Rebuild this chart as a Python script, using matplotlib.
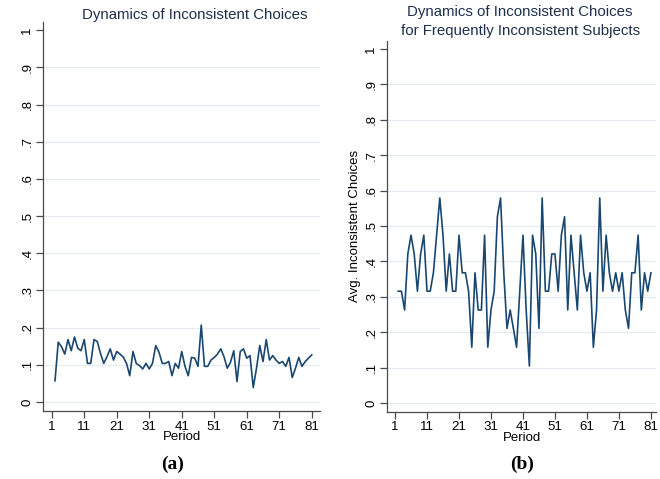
import numpy as np
import matplotlib
matplotlib.use("Agg")
import matplotlib.pyplot as plt

plt.rcParams['font.family'] = ['Liberation Sans', 'DejaVu Sans']

# periods 2..81 (first period has no previous choice to compare with)
periods = np.arange(2, 82)

# panel (a): all subjects
avg_all = [
    0.057, 0.161, 0.149, 0.129, 0.168, 0.138, 0.175, 0.145, 0.138, 0.168,
    0.104, 0.104, 0.168, 0.163, 0.131, 0.104, 0.122, 0.143, 0.113, 0.136,
    0.129, 0.121, 0.104, 0.071, 0.136, 0.104, 0.098, 0.089, 0.104, 0.089,
    0.104, 0.152, 0.134, 0.104, 0.104, 0.109, 0.071, 0.104, 0.091, 0.136,
    0.096, 0.071, 0.120, 0.118, 0.096, 0.207, 0.096, 0.096, 0.113, 0.120,
    0.129, 0.143, 0.122, 0.091, 0.107, 0.138, 0.055, 0.136, 0.143, 0.118,
    0.125, 0.039, 0.091, 0.152, 0.109, 0.168, 0.113, 0.125, 0.113, 0.104,
    0.109, 0.096, 0.120, 0.066, 0.091, 0.120, 0.096, 0.109, 0.118, 0.127,
]

# panel (b): frequently inconsistent subjects
avg_freq = [
    0.316, 0.316, 0.263, 0.421, 0.474, 0.421, 0.316, 0.421, 0.474, 0.316,
    0.316, 0.368, 0.474, 0.579, 0.474, 0.316, 0.421, 0.316, 0.316, 0.474,
    0.368, 0.368, 0.316, 0.158, 0.368, 0.263, 0.263, 0.474, 0.158, 0.263,
    0.316, 0.526, 0.579, 0.368, 0.211, 0.263, 0.211, 0.158, 0.316, 0.474,
    0.263, 0.105, 0.474, 0.421, 0.211, 0.579, 0.316, 0.316, 0.421, 0.421,
    0.316, 0.474, 0.526, 0.263, 0.474, 0.368, 0.263, 0.474, 0.368, 0.316,
    0.368, 0.158, 0.263, 0.579, 0.316, 0.474, 0.368, 0.316, 0.368, 0.316,
    0.368, 0.263, 0.211, 0.368, 0.368, 0.474, 0.263, 0.368, 0.316, 0.368,
]

xticks = [1, 11, 21, 31, 41, 51, 61, 71, 81]
yticks = [0, 0.1, 0.2, 0.3, 0.4, 0.5, 0.6, 0.7, 0.8, 0.9, 1]
ytick_labels = ['0', '.1', '.2', '.3', '.4', '.5', '.6', '.7', '.8', '.9', '1']

line_color = '#1a476f'
title_color = '#1e2f4d'
grid_color = '#e3edf1'
axis_color = '#4a4a4a'

fig = plt.figure(figsize=(6.6, 4.79), dpi=100)
ax1 = fig.add_axes([0.0652, 0.1420, 0.4197, 0.8121])
ax2 = fig.add_axes([0.5864, 0.1405, 0.4076, 0.7739])


def style_axis(ax, xlim):
    for y in yticks[:-1]:
        ax.axhline(y, color=grid_color, lw=0.9, zorder=0)
    ax.set_xlim(*xlim)
    ax.set_ylim(-0.024, 1.022)
    ax.set_xticks(xticks)
    ax.set_yticks(yticks)
    ax.set_yticklabels(ytick_labels)
    ax.spines['top'].set_visible(False)
    ax.spines['right'].set_visible(False)
    for s in ['left', 'bottom']:
        ax.spines[s].set_color(axis_color)
        ax.spines[s].set_linewidth(0.9)
    ax.tick_params(axis='both', colors=axis_color, labelcolor='black',
                   labelsize=9.5, length=5, width=0.9, pad=2)
    ax.tick_params(axis='y', labelrotation=90)
    for lab in ax.get_yticklabels():
        lab.set_verticalalignment('center')
    ax.set_xlabel('Period', fontsize=9.5, labelpad=-1)


ax1.plot(periods, avg_all, color=line_color, lw=1.2)
style_axis(ax1, (-1.68, 83.55))

ax2.plot(periods, avg_freq, color=line_color, lw=1.2)
style_axis(ax2, (-1.5, 82.6))
ax2.set_ylabel('Avg. Inconsistent Choices', fontsize=9.5)
ax2.yaxis.set_label_coords(-0.095, 0.5)

fig.text(0.2955, 0.969, 'Dynamics of Inconsistent Choices',
         ha='center', va='center', fontsize=10.8, color=title_color)
fig.text(0.788, 0.975, 'Dynamics of Inconsistent Choices',
         ha='center', va='center', fontsize=10.8, color=title_color)
fig.text(0.788, 0.935, 'for Frequently Inconsistent Subjects',
         ha='center', va='center', fontsize=10.8, color=title_color)

fig.text(0.262, 0.031, '(a)', ha='center', va='center', fontsize=14,
         fontweight='bold', family='Liberation Serif')
fig.text(0.791, 0.031, '(b)', ha='center', va='center', fontsize=14,
         fontweight='bold', family='Liberation Serif')

fig.savefig('out.png', dpi=100)
